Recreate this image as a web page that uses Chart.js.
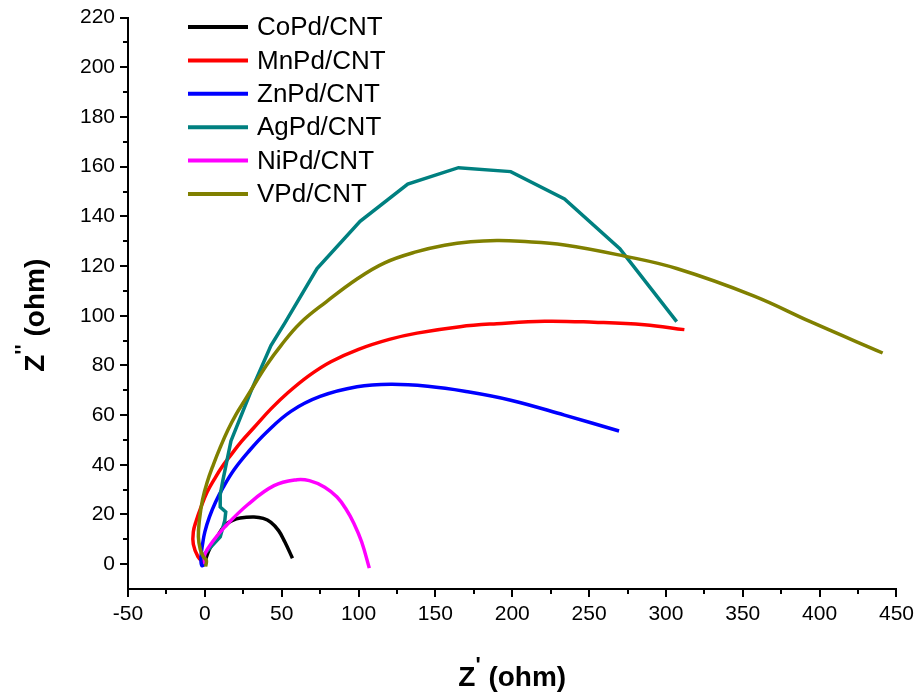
<!DOCTYPE html>
<html>
<head>
<meta charset="utf-8">
<script src="https://cdn.jsdelivr.net/npm/chart.js@4.4.0/dist/chart.umd.min.js"></script>
<style>
  html, body { margin: 0; padding: 0; background: #fff; }
  #wrap { width: 919px; height: 698px; }
</style>
</head>
<body>
<div id="wrap"><canvas id="chart" width="919" height="698"></canvas></div>
<script>
// Nyquist data, [Z', Z''] in ohm
const coPd = [[0,1],[3,6],[8,11],[13,15.6],[18,17.6],[23,18.6],[32,19],[38,18.4],[43,16.8],[48,13.5],[52,9],[57,2.4]];
const mnPd = [[0,0.5],[-1.3,1],[-4.5,3],[-7.5,8],[-7.5,13],[-5.6,17.5],[-2.5,23],[1.5,29],[6,34],[11,39],[17,44],[24,49.5],[32,55],[43,62.5],[54,69],[68,76],[82,81.5],[100,86.5],[120,90.5],[138,93],[166,95.6],[190,96.8],[221,97.8],[253,97.4],[286,96.4],[312,94.4]];
const znPd = [[0,0],[-2,-0.5],[-2.5,3],[-1.5,8],[0,13],[3,19],[7,25],[12,31],[19,38],[28,45],[40,53],[56,61.5],[75,67.5],[99,71.4],[121,72.4],[145,71.6],[169,69.6],[199,66],[234,60],[269.5,53.6]];
const agPd = [[0,0],[0,1],[-1,3.6],[4,7],[10,11],[13,17.6],[13.6,21],[10,23],[10,28],[11.7,33.6],[17,49.6],[30,69.6],[43,88],[52,97],[73,119],[101,138],[132,153],[165,159.6],[199,158],[234,147],[270,127],[307,97.6]];
const niPd = [[0,0],[0,4],[5,9],[13,15],[28,24],[45,31.6],[60,34],[68,33.6],[78,31],[86,27],[92,22],[97,16.4],[102,9],[107,-1.6]];
const vPd = [[0.5,-1],[1,1.5],[-1,3],[-3,6],[-4.2,11],[-3.5,18],[-1.5,26],[1.5,33],[5.5,40],[10,47],[15,54],[20.5,60.5],[26,66],[32,72],[40,80],[49.5,88],[62,97],[79,105.6],[99,114.8],[117,121.3],[138,125.8],[156,128.4],[173,129.8],[190,130.3],[205,130],[234,128.5],[273,124],[307,119],[357,108],[394,97.6],[441,85]];

const seriesNames = ['CoPd/CNT', 'MnPd/CNT', 'ZnPd/CNT', 'AgPd/CNT', 'NiPd/CNT', 'VPd/CNT'];
const seriesData = [coPd, mnPd, znPd, agPd, niPd, vPd];
const seriesColors = ['#000000', '#ff0000', '#0000ff', '#008080', '#ff00ff', '#808000'];
const seriesTension = [0.4, 0.4, 0.4, 0, 0.4, 0.4];

const xTicks = [-50, 0, 50, 100, 150, 200, 250, 300, 350, 400, 450];
const yTicks = [0, 20, 40, 60, 80, 100, 120, 140, 160, 180, 200, 220];
const xMinor = [-25, 25, 75, 125, 175, 225, 275, 325, 375, 425];
const yMinor = [10, 30, 50, 70, 90, 110, 130, 150, 170, 190, 210];

const FONT = 'Arial, "Liberation Sans", sans-serif';

// minor ticks, custom legend and axis titles with raised primes
const extras = {
    id: 'extras',
    afterDraw(chart) {
        const ctx = chart.ctx;
        const area = chart.chartArea;
        const xs = chart.scales.x;
        const ys = chart.scales.y;
        ctx.save();

        // minor ticks
        ctx.strokeStyle = '#000';
        ctx.lineWidth = 2;
        ctx.beginPath();
        xMinor.forEach(v => {
            const px = Math.round(xs.getPixelForValue(v));
            ctx.moveTo(px, area.bottom);
            ctx.lineTo(px, area.bottom + 5);
        });
        yMinor.forEach(v => {
            const py = Math.round(ys.getPixelForValue(v));
            ctx.moveTo(area.left, py);
            ctx.lineTo(area.left - 5, py);
        });
        ctx.stroke();

        // legend
        ctx.textBaseline = 'middle';
        ctx.textAlign = 'left';
        ctx.font = '26px ' + FONT;
        chart.data.datasets.forEach((ds, i) => {
            const y = 27 + i * 33.4;
            ctx.strokeStyle = ds.borderColor;
            ctx.lineWidth = 4;
            ctx.beginPath();
            ctx.moveTo(area.left + 60, y);
            ctx.lineTo(area.left + 120, y);
            ctx.stroke();
            ctx.fillStyle = '#000';
            ctx.fillText(ds.label, area.left + 129, y + 1);
        });

        // axis titles
        function title(x, y, sup) {
            ctx.textBaseline = 'alphabetic';
            ctx.textAlign = 'left';
            ctx.fillStyle = '#000';
            ctx.font = 'bold 28px ' + FONT;
            const wZ = ctx.measureText('Z').width;
            const wRest = ctx.measureText(' (ohm)').width;
            ctx.font = 'bold 22px ' + FONT;
            const wSup = ctx.measureText(sup).width;
            const total = wZ + wSup + wRest;
            let cx = x - total / 2;
            ctx.font = 'bold 28px ' + FONT;
            ctx.fillText('Z', cx, y);
            cx += wZ;
            ctx.font = 'bold 22px ' + FONT;
            ctx.fillText(sup, cx, y - 14);
            cx += wSup;
            ctx.font = 'bold 28px ' + FONT;
            ctx.fillText(' (ohm)', cx, y);
        }
        title((area.left + area.right) / 2, 686, "'");
        ctx.translate(44, (area.top + area.bottom) / 2 + 12);
        ctx.rotate(-Math.PI / 2);
        title(0, 0, "''");

        ctx.restore();
    }
};

new Chart(document.getElementById('chart'), {
    type: 'scatter',
    data: {
        datasets: seriesNames.map((name, i) => ({
            label: name,
            data: seriesData[i].map(p => ({ x: p[0], y: p[1] })),
            showLine: true,
            borderColor: seriesColors[i],
            backgroundColor: seriesColors[i],
            borderWidth: 3.5,
            pointRadius: 0,
            tension: seriesTension[i],
            fill: false,
            order: seriesNames.length - i
        }))
    },
    options: {
        responsive: false,
        animation: false,
        layout: { padding: { top: 14, right: 19, bottom: 0, left: 0 } },
        plugins: {
            legend: { display: false },
            tooltip: { enabled: false }
        },
        scales: {
            x: {
                type: 'linear',
                min: -50,
                max: 450,
                afterBuildTicks: s => { s.ticks = xTicks.map(v => ({ value: v })); },
                afterFit: s => { s.height = 109; },
                border: { color: '#000', width: 2 },
                grid: { drawOnChartArea: false, color: '#000', lineWidth: 2, tickLength: 8 },
                ticks: { color: '#000', font: { family: FONT, size: 21 }, padding: 5, maxRotation: 0 }
            },
            y: {
                type: 'linear',
                min: -10,
                max: 220,
                afterBuildTicks: s => { s.ticks = yTicks.map(v => ({ value: v })); },
                afterFit: s => { s.width = 128; },
                border: { color: '#000', width: 2 },
                grid: { drawOnChartArea: false, color: '#000', lineWidth: 2, tickLength: 8 },
                ticks: { color: '#000', font: { family: FONT, size: 21 }, padding: 5 }
            }
        }
    },
    plugins: [extras]
});
</script>
</body>
</html>
